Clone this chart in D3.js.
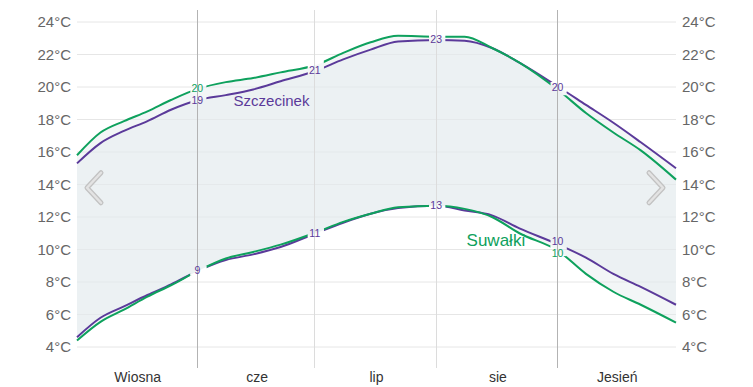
<!DOCTYPE html>
<html>
<head>
<meta charset="utf-8">
<script src="https://cdn.jsdelivr.net/npm/d3@7"></script>
<style>
  body { margin: 0; background: #fff; }
  svg { font-family: "Liberation Sans", Arial, sans-serif; display: block; }
</style>
</head>
<body>
<div id="chart"></div>
<script>
// chart data
var dates = ["2021-05-01", "2021-05-07", "2021-05-13", "2021-05-19", "2021-05-25",
    "2021-06-01", "2021-06-08", "2021-06-15", "2021-06-22", "2021-07-01",
    "2021-07-08", "2021-07-15", "2021-07-22", "2021-08-01", "2021-08-08",
    "2021-08-15", "2021-08-22", "2021-09-01", "2021-09-08", "2021-09-15",
    "2021-09-22", "2021-10-01"];

var szczecinekHigh = [15.3, 16.55, 17.3, 17.9, 18.6, 19.2, 19.5, 19.85, 20.35, 21.0, 21.7,
    22.3, 22.8, 22.9, 22.85, 22.4, 21.5, 20.0, 18.9, 17.8, 16.6, 15.0];
var szczecinekLow = [4.6, 5.8, 6.5, 7.2, 7.85, 8.7, 9.35, 9.7, 10.15, 11.0, 11.65,
    12.2, 12.55, 12.7, 12.4, 12.1, 11.3, 10.3, 9.5, 8.5, 7.7, 6.6];
var suwalkiHigh = [15.8, 17.2, 17.9, 18.5, 19.2, 19.9, 20.3, 20.55, 20.9, 21.35, 22.1,
    22.75, 23.15, 23.1, 23.1, 22.4, 21.5, 19.8, 18.4, 17.2, 16.1, 14.3];
var suwalkiLow = [4.4, 5.55, 6.3, 7.1, 7.8, 8.7, 9.45, 9.85, 10.3, 11.05, 11.7,
    12.2, 12.6, 12.7, 12.5, 12.0, 11.0, 9.9, 8.5, 7.4, 6.6, 5.5];

var yTicks = [4, 6, 8, 10, 12, 14, 16, 18, 20, 22, 24];
var boundaries = ["2021-06-01", "2021-07-01", "2021-08-01", "2021-09-01"];
var seasonBoundaries = ["2021-06-01", "2021-09-01"];
var periodLabels = ["Wiosna", "cze", "lip", "sie", "Jesień"];
var periodEdges = ["2021-05-01", "2021-06-01", "2021-07-01", "2021-08-01", "2021-09-01", "2021-10-01"];

var svgWidth = 753;
var svgHeight = 387;
var margin = { top: 22, right: 77, bottom: 40, left: 77 };
var width = svgWidth - margin.left - margin.right;
var height = 347 - margin.top;

var purple = "#5b3a9a";
var green = "#0ea15d";

var parseDate = d3.timeParse("%Y-%m-%d");

var svg = d3.select("#chart")
    .append("svg")
    .attr("width", svgWidth)
    .attr("height", svgHeight);

var chartGroup = svg.append("g")
    .attr("transform", `translate(${margin.left}, ${margin.top})`);

var x = d3.scaleTime()
    .domain([parseDate("2021-05-01"), parseDate("2021-10-01")])
    .range([0, width]);

var y = d3.scaleLinear()
    .domain([4, 24])
    .range([height, 0]);

function makeSeries(hi, lo) {
    return dates.map((d, i) => ({ date: parseDate(d), hi: hi[i], lo: lo[i] }));
}
var szcz = makeSeries(szczecinekHigh, szczecinekLow);
var suw = makeSeries(suwalkiHigh, suwalkiLow);

// grid lines
chartGroup.selectAll(".grid")
    .data(yTicks)
    .enter()
    .append("line")
    .attr("x1", 0)
    .attr("x2", width)
    .attr("y1", d => y(d))
    .attr("y2", d => y(d))
    .attr("stroke", "#e6e6e6")
    .attr("stroke-width", 1);

// range areas
var area = d3.area()
    .x(d => x(d.date))
    .y0(d => y(d.lo))
    .y1(d => y(d.hi))
    .curve(d3.curveMonotoneX);

[szcz, suw].forEach(function(s) {
    chartGroup.append("path")
        .datum(s)
        .attr("d", area)
        .attr("fill", "#e4eaee")
        .attr("fill-opacity", 0.45);
});

// vertical month lines
chartGroup.selectAll(".vline")
    .data(boundaries)
    .enter()
    .append("line")
    .attr("x1", d => Math.floor(x(parseDate(d))) - 0.5)
    .attr("x2", d => Math.floor(x(parseDate(d))) - 0.5)
    .attr("y1", -12)
    .attr("y2", height + 21)
    .attr("stroke", d => seasonBoundaries.includes(d) ? "#b3b3b3" : "#dcdcdc")
    .attr("stroke-width", 1);

// labels at month boundaries
var labelSpecs = [];
var seriesDefs = [
    { data: szcz, key: "hi", color: purple },
    { data: szcz, key: "lo", color: purple },
    { data: suw, key: "hi", color: green },
    { data: suw, key: "lo", color: green }
];
seriesDefs.forEach(function(s) {
    boundaries.forEach(function(b) {
        var pt = s.data.find(d => +d.date === +parseDate(b));
        labelSpecs.push({ date: pt.date, value: pt[s.key], color: s.color, key: s.key, show: true });
    });
});
// hide labels that sit on top of one already shown, spread the close ones
labelSpecs.forEach(function(l, i) {
    l.py = y(l.value);
    labelSpecs.slice(0, i).forEach(function(o) {
        if (o.show && +o.date === +l.date && o.key === l.key) {
            var diff = Math.abs(o.py - l.py);
            if (diff < 6) {
                l.show = false;
            } else if (diff < 12) {
                var mid = (o.py + l.py) / 2;
                var up = o.py < l.py ? -1 : 1;
                o.py = mid + up * 6;
                l.py = mid - up * 6;
            }
        }
    });
});

// mask to break lines where labels sit
var mask = svg.append("defs").append("mask")
    .attr("id", "labelGaps")
    .attr("maskUnits", "userSpaceOnUse")
    .attr("x", 0).attr("y", 0)
    .attr("width", svgWidth).attr("height", svgHeight);
mask.append("rect")
    .attr("x", 0).attr("y", 0)
    .attr("width", svgWidth).attr("height", svgHeight)
    .attr("fill", "white");
mask.selectAll(".gap")
    .data(labelSpecs)
    .enter()
    .append("rect")
    .attr("x", d => margin.left + x(d.date) - 8)
    .attr("y", d => margin.top + y(d.value) - 5)
    .attr("width", 16)
    .attr("height", 10)
    .attr("fill", "black");

var lineGroup = svg.append("g")
    .attr("mask", "url(#labelGaps)")
    .append("g")
    .attr("transform", `translate(${margin.left}, ${margin.top})`);

seriesDefs.forEach(function(s) {
    var line = d3.line()
        .x(d => x(d.date))
        .y(d => y(d[s.key]))
        .curve(d3.curveMonotoneX);
    lineGroup.append("path")
        .datum(s.data)
        .attr("d", line)
        .attr("fill", "none")
        .attr("stroke", s.color)
        .attr("stroke-width", 2);
});

chartGroup.selectAll(".blabel")
    .data(labelSpecs.filter(d => d.show))
    .enter()
    .append("text")
    .attr("x", d => x(d.date) - 1)
    .attr("y", d => d.py + 3.5)
    .attr("text-anchor", "middle")
    .attr("font-size", 10.5)
    .attr("fill", d => d.color)
    .text(d => Math.round(d.value));

// series names
chartGroup.append("text")
    .attr("x", x(parseDate("2021-06-10")))
    .attr("y", y(szczecinekHigh[6]) + 11)
    .attr("font-size", 15)
    .attr("fill", purple)
    .text("Szczecinek");

chartGroup.append("text")
    .attr("x", x(parseDate("2021-08-08")) + 2)
    .attr("y", y(suwalkiLow[14]) + 37)
    .attr("font-size", 17)
    .attr("fill", green)
    .text("Suwałki");

// y axis labels, both sides
chartGroup.selectAll(".ylabL")
    .data(yTicks)
    .enter()
    .append("text")
    .attr("x", -6)
    .attr("y", d => y(d) + 5)
    .attr("text-anchor", "end")
    .attr("font-size", 15)
    .attr("fill", "#666")
    .text(d => d + "°C");

chartGroup.selectAll(".ylabR")
    .data(yTicks)
    .enter()
    .append("text")
    .attr("x", width + 6)
    .attr("y", d => y(d) + 5)
    .attr("text-anchor", "start")
    .attr("font-size", 15)
    .attr("fill", "#666")
    .text(d => d + "°C");

// x period labels
chartGroup.selectAll(".xlab")
    .data(periodLabels)
    .enter()
    .append("text")
    .attr("x", (d, i) => (x(parseDate(periodEdges[i])) + x(parseDate(periodEdges[i + 1]))) / 2)
    .attr("y", height + 35)
    .attr("text-anchor", "middle")
    .attr("font-size", 14)
    .attr("fill", "#333")
    .text(d => d);

// navigation arrows
var arrowY = y(13.8);
function chevron(cx, dir) {
    var p = `M${cx - dir * 7},${arrowY - 15} L${cx + dir * 7},${arrowY} L${cx - dir * 7},${arrowY + 15}`;
    chartGroup.append("path").attr("d", p)
        .attr("fill", "none").attr("stroke", "#c2c2c2").attr("stroke-width", 5)
        .attr("stroke-linecap", "round").attr("stroke-linejoin", "round");
    chartGroup.append("path").attr("d", p)
        .attr("fill", "none").attr("stroke", "#e3e3e3").attr("stroke-width", 2.5)
        .attr("stroke-linecap", "round").attr("stroke-linejoin", "round");
}
chevron(17, -1);
chevron(width - 20, 1);
</script>
</body>
</html>
